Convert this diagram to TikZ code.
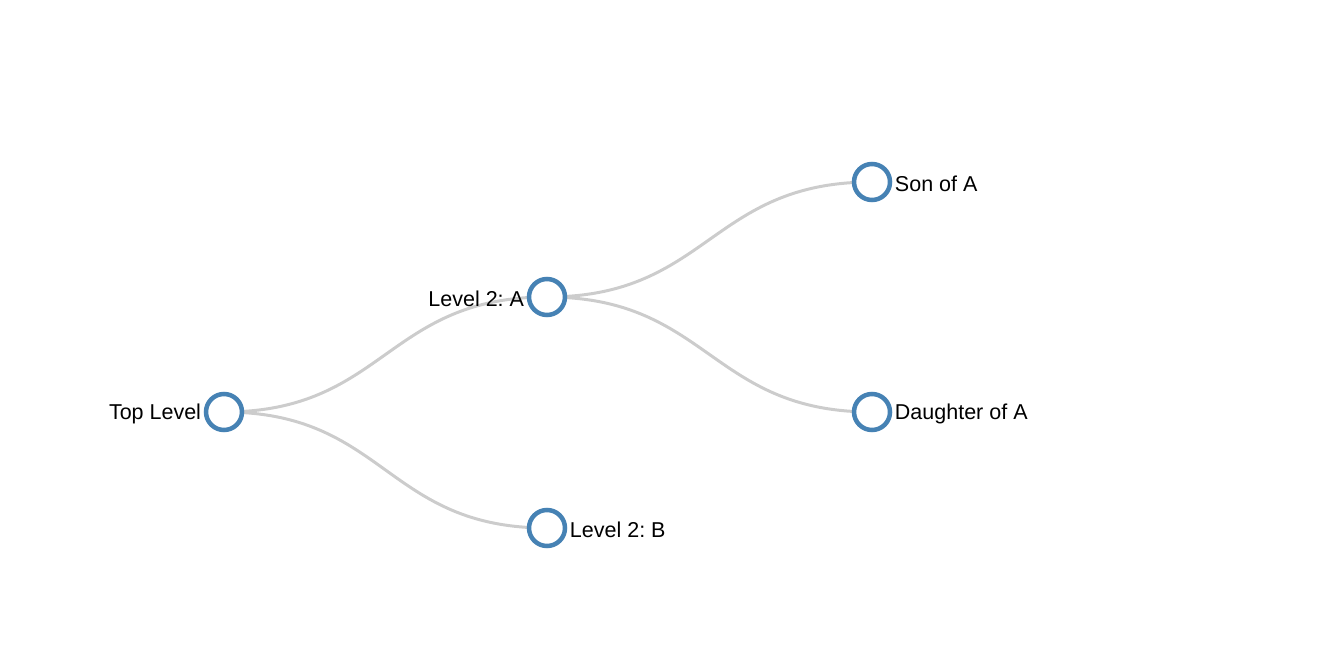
\documentclass[tikz,border=0pt]{standalone}
\usepackage{fontspec}
\setmainfont{Liberation Sans}
\frenchspacing
\usetikzlibrary{backgrounds}
\definecolor{steelblue}{RGB}{70,130,180}
\definecolor{linkgray}{RGB}{204,204,204}
\tikzset{
  treenode/.style={circle, draw=steelblue, line width=4.5pt, fill=white,
    minimum size=36pt, inner sep=0pt},
  tlabel/.style={inner sep=2.5pt, yshift=-1.5pt, font=\fontsize{21.5}{25}\selectfont},
  link/.style={draw=linkgray, line width=3pt}
}
\begin{document}
\begin{tikzpicture}[x=1pt,y=-1pt]
\useasboundingbox (0,0) rectangle (1324,660);
\node[treenode, label={[tlabel]left:Top Level}] (top) at (224,412) {};
\node[treenode, label={[tlabel]left:Level 2: A}] (a) at (547,297) {};
\node[treenode, label={[tlabel]right:Level 2: B}] (b) at (547,528) {};
\node[treenode, label={[tlabel]right:Son of A}] (son) at (872,182) {};
\node[treenode, label={[tlabel]right:Daughter of A}] (dau) at (872,412) {};
\begin{scope}[on background layer]
\draw[link] (top.center) to[out=0,in=180,looseness=1.2] (a.center);
\draw[link] (top.center) to[out=0,in=180,looseness=1.2] (b.center);
\draw[link] (a.center) to[out=0,in=180,looseness=1.2] (son.center);
\draw[link] (a.center) to[out=0,in=180,looseness=1.2] (dau.center);
\end{scope}
\end{tikzpicture}
\end{document}
